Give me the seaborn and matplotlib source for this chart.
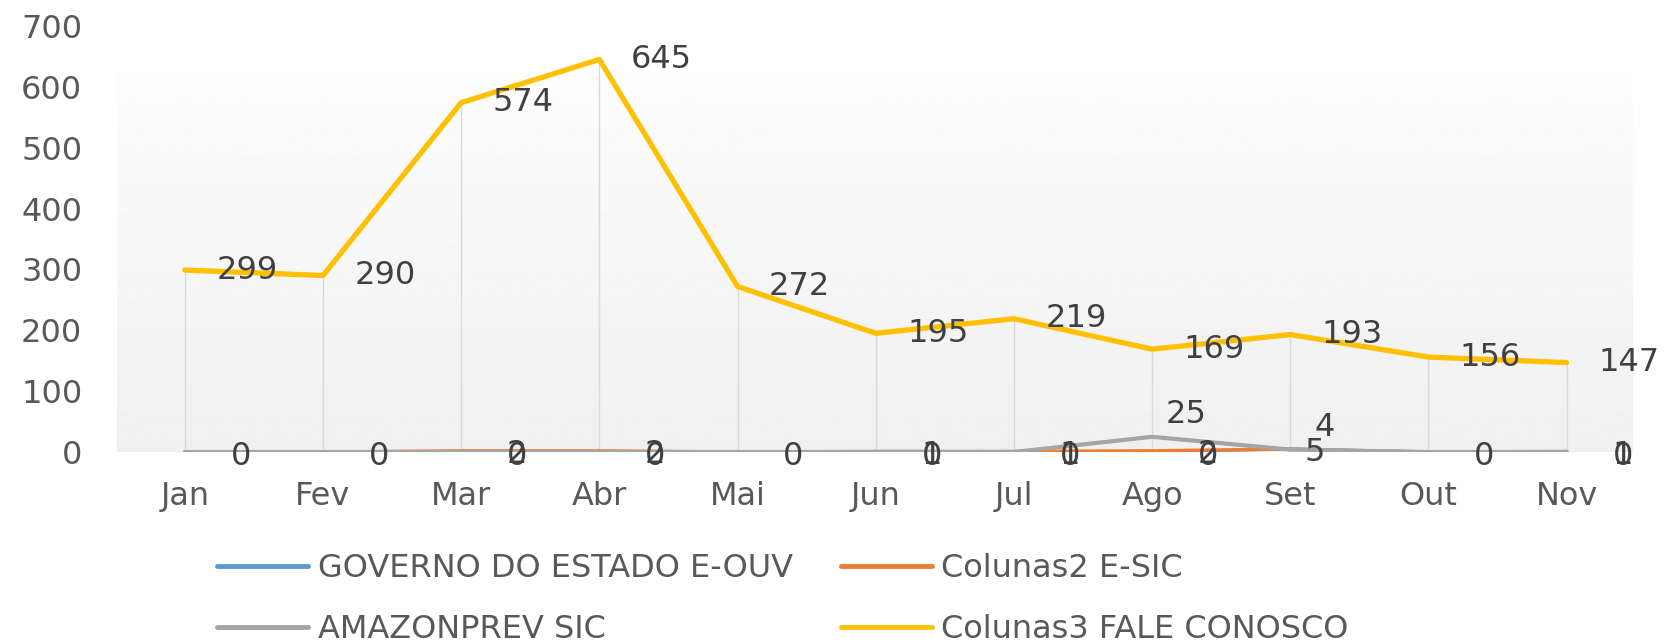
import numpy as np
import pandas as pd
import seaborn as sns
import matplotlib.pyplot as plt

# ---------------- DADOS ----------------
meses = ["Jan", "Fev", "Mar", "Abr", "Mai", "Jun", "Jul", "Ago", "Set", "Out", "Nov"]
governo_e_ouv = [0, 0, 0, 0, 0, 0, 0, 0, 5, 0, 0]
colunas2_e_sic = [0, 0, 2, 2, 0, 1, 1, 2, 5, 0, 1]
amazonprev_sic = [0, 0, 0, 0, 0, 0, 0, 25, 4, 0, 0]
colunas3_fale = [299, 290, 574, 645, 272, 195, 219, 169, 193, 156, 147]
series_nomes = ["GOVERNO DO ESTADO E-OUV", "Colunas2 E-SIC", "AMAZONPREV SIC", "Colunas3 FALE CONOSCO"]
y_ticks = [0, 100, 200, 300, 400, 500, 600, 700]
# ----------------------------------------

cores = ["#5B9BD5", "#ED7D31", "#A5A5A5", "#FFC000"]
larguras = [2.2, 2.4, 3.0, 3.8]

sns.set_theme(style="white")
plt.rcParams["font.family"] = ["DejaVu Sans"]

df = pd.DataFrame({
    "mes": meses * 4,
    "valor": governo_e_ouv + colunas2_e_sic + amazonprev_sic + colunas3_fale,
    "serie": np.repeat(series_nomes, len(meses)),
})

fig = plt.figure(figsize=(16.75, 6.43), dpi=100)
ax = fig.add_axes([0.0699, 0.297, 0.905, 0.6626])

x0, x1 = -0.49, 10.48

# parede de fundo com gradiente (estilo Excel 3D)
grad = np.linspace(0.94, 0.992, 256).reshape(-1, 1)
ax.imshow(grad, extent=(x0, x1, 0, 623), origin="lower", cmap="gray",
          vmin=0, vmax=1, aspect="auto", zorder=0)
ax.axhline(0, color="#D9D9D9", lw=1, zorder=1)

# linhas de queda
pos = np.arange(len(meses))
ax.vlines(pos, 0, colunas3_fale, color="#D9D9D9", lw=1, zorder=1)

for nome, cor, lw in zip(series_nomes, cores, larguras):
    sub = df[df["serie"] == nome]
    sns.lineplot(data=sub, x="mes", y="valor", color=cor, lw=lw, ax=ax,
                 sort=False, label=nome, zorder=3)

# rótulos de dados (à direita do ponto, como no Excel)
# valores iguais no mesmo mês ficam sobrepostos, então basta um rótulo
ja_usados = set()
for nome in series_nomes:
    sub = df[df["serie"] == nome]
    for i, v in enumerate(sub["valor"]):
        if nome == series_nomes[3]:
            dx, dy = 62, 0
        elif nome == series_nomes[2] and v > 0:
            dx, dy = 34, 22
        elif nome == series_nomes[0] and v > 0:
            dx, dy = 24, -4
        else:
            dx, dy = 56, -4
        chave = (i, str(v))
        if chave in ja_usados:
            continue
        ja_usados.add(chave)
        ax.annotate(str(v), (i, v), xytext=(dx, dy), textcoords="offset pixels",
                    ha="center", va="center", fontsize=23, color="#404040",
                    annotation_clip=False, zorder=4)

ax.set_xlim(x0, x1)
ax.set_ylim(0, 700)
ax.set_yticks(y_ticks)
ax.set_xticks(pos)
ax.set_xticklabels(meses)
ax.tick_params(axis="both", length=0, labelsize=23, labelcolor="#595959")
ax.tick_params(axis="y", pad=25)
ax.tick_params(axis="x", pad=21)
ax.set_xlabel("")
ax.set_ylabel("")
for s in ax.spines.values():
    s.set_visible(False)
ax.patch.set_alpha(0)

handles, labels = ax.get_legend_handles_labels()
ax.get_legend().remove()
ordem = [0, 2, 1, 3]
leg = fig.legend([handles[i] for i in ordem], [labels[i] for i in ordem],
                 loc="upper left", bbox_to_anchor=(217 / 1675, 1 - 553 / 643),
                 ncol=2, frameon=False, borderpad=0, borderaxespad=0,
                 fontsize=23, labelcolor="#595959", handlelength=2.85,
                 handletextpad=0.3, columnspacing=1.5, labelspacing=0.95)
for linha in leg.get_lines():
    linha.set_linewidth(3.5)

plt.savefig("out.png", dpi=100)
plt.close()
